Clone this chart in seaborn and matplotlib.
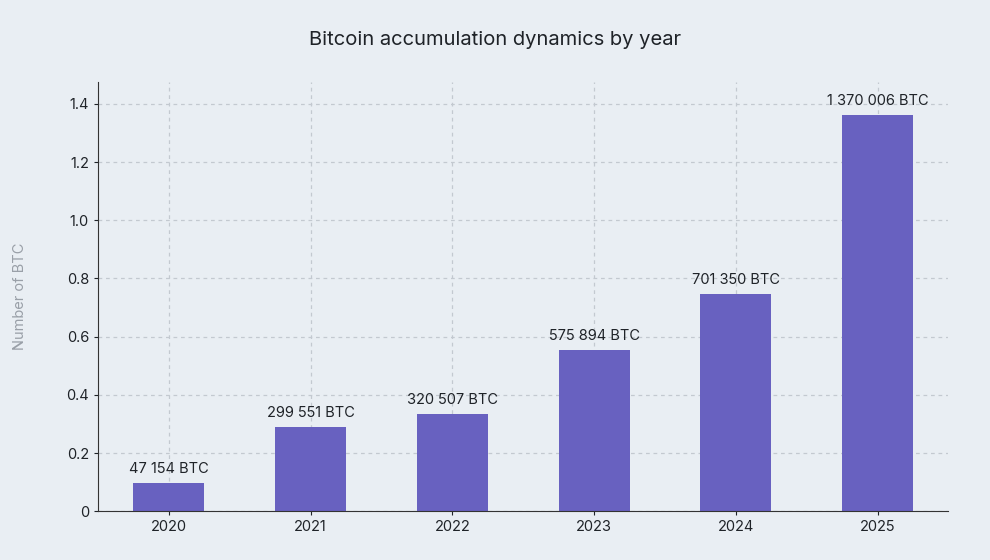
import numpy as np
import pandas as pd
import matplotlib.pyplot as plt
import seaborn as sns

# values
years = ["2020", "2021", "2022", "2023", "2024", "2025"]
bar_heights = [0.096, 0.289, 0.334, 0.554, 0.746, 1.362]
bar_labels = ["47 154 BTC", "299 551 BTC", "320 507 BTC",
              "575 894 BTC", "701 350 BTC", "1 370 006 BTC"]
y_ticks = [0, 0.2, 0.4, 0.6, 0.8, 1.0, 1.2, 1.4]
y_tick_labels = ["0", "0.2", "0.4", "0.6", "0.8", "1.0", "1.2", "1.4"]

df = pd.DataFrame({"year": years, "btc": bar_heights})

bg = "#e9eef3"
plt.rcParams["font.family"] = "Inter"
fig = plt.figure(figsize=(9.9, 5.6), dpi=100, facecolor=bg)
ax = fig.add_axes([0.099, 0.087, 0.859, 0.767])
ax.set_facecolor(bg)

sns.barplot(data=df, x="year", y="btc", color="#6861c0", width=0.5,
            saturation=1, ax=ax, zorder=2)

for i, (h, lab) in enumerate(zip(bar_heights, bar_labels)):
    ax.text(i, h + 0.025, lab, ha="center", va="bottom", fontsize=10.5, color="#1f2328")

ax.set_ylim(0, 1.476)
ax.set_xlim(-0.5, 5.5)
ax.set_yticks(y_ticks)
ax.set_yticklabels(y_tick_labels)
ax.grid(True, linestyle=(0, (3, 3)), color="#c3c9d0", linewidth=0.9, zorder=0)
ax.set_axisbelow(True)
for s in ["top", "right"]:
    ax.spines[s].set_visible(False)
for s in ["left", "bottom"]:
    ax.spines[s].set_color("#333333")
ax.tick_params(labelsize=10.5, colors="#1f2328", length=3)
ax.set_xlabel("")
ax.set_ylabel("Number of BTC", color="#9aa0a8", fontsize=10.5, labelpad=28)
fig.suptitle("Bitcoin accumulation dynamics by year", y=0.945, fontsize=14.5, color="#1f2328")

fig.savefig("out.png", dpi=100, facecolor=bg)
